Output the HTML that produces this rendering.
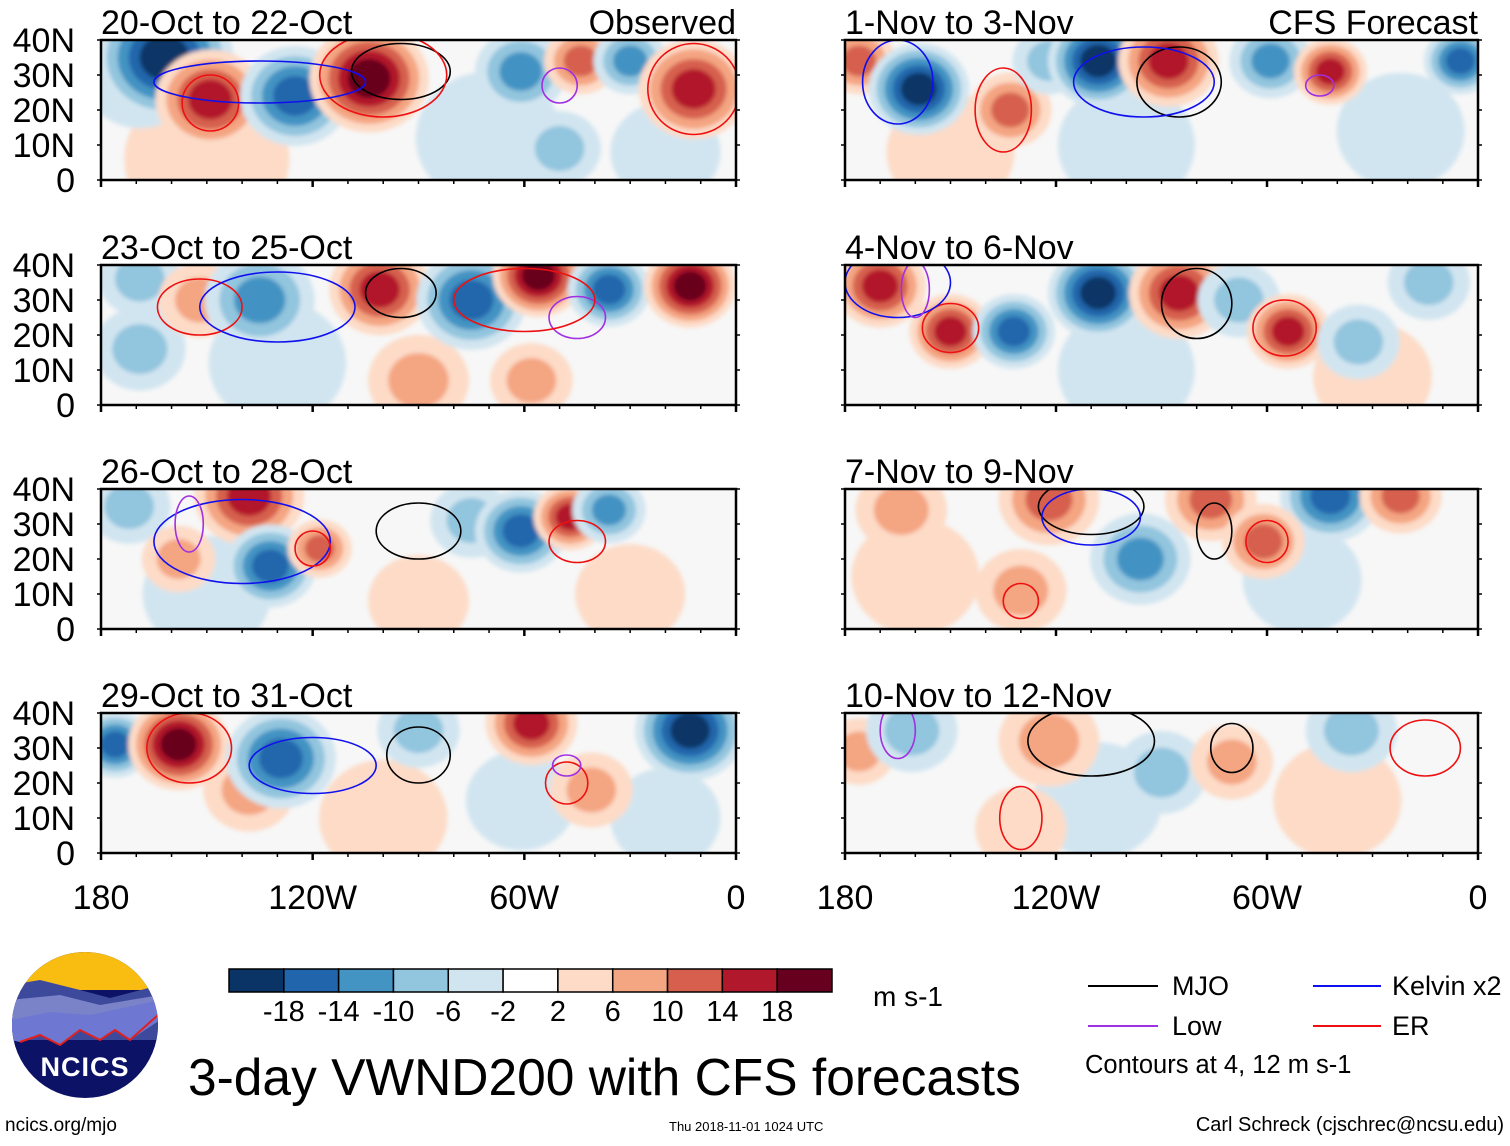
<!DOCTYPE html>
<html><head><meta charset="utf-8"><style>
body{margin:0;background:#fff;}
svg text{font-family:"Liberation Sans",sans-serif;}
</style></head><body>
<svg id="chart" width="1510" height="1141" viewBox="0 0 1510 1141" xmlns="http://www.w3.org/2000/svg">
<defs><filter id="bl" x="-20%" y="-20%" width="140%" height="140%"><feGaussianBlur stdDeviation="2"/></filter></defs>
<g id="panels"></g>
<g id="static">
  <g id="cbar"></g>
  <text x="873" y="1006" font-size="28">m s-1</text>
  <g>
    <clipPath id="lc"><circle cx="85" cy="1025" r="73"/></clipPath>
    <g clip-path="url(#lc)">
      <rect x="10" y="950" width="150" height="150" fill="#0c1265"/>
      <rect x="10" y="950" width="150" height="40" fill="#f9bd12"/>
      <path d="M10 985 L40 980 L80 990 L110 998 L160 985 L160 1040 L10 1040Z" fill="#3d4a9c"/>
      <path d="M10 1000 L60 995 L100 1005 L160 995 L160 1020 L10 1030Z" fill="#7a82c8"/>
      <path d="M10 1020 L50 1012 L90 1015 L160 1000 L160 1020 L130 1040 L115 1030 L100 1040 L80 1030 L60 1045 L40 1035 L20 1042 L10 1040Z" fill="#6e78d2"/>
      <path d="M20 1042 L40 1035 L60 1045 L80 1030 L100 1040 L115 1030 L130 1040 L158 1015" fill="none" stroke="#e02020" stroke-width="2"/>
    </g>
    <text x="85" y="1076" font-size="27" font-weight="bold" fill="#fff" text-anchor="middle" letter-spacing="1">NCICS</text>
  </g>
  <text x="188" y="1095" font-size="51.5">3-day VWND200 with CFS forecasts</text>
  <text x="5" y="1131" font-size="19">ncics.org/mjo</text>
  <text x="669" y="1131" font-size="13">Thu 2018-11-01 1024 UTC</text>
  <text x="1504" y="1131" font-size="20" text-anchor="end">Carl Schreck (cjschrec@ncsu.edu)</text>
  <g>
    <g><line x1="1088" y1="986" x2="1158" y2="986" stroke="#000" stroke-width="2"/><text x="1172" y="995" font-size="27">MJO</text></g>
    <g><line x1="1313" y1="986" x2="1381" y2="986" stroke="#1010ee" stroke-width="2"/><text x="1392" y="995" font-size="27">Kelvin x2</text></g>
    <g><line x1="1088" y1="1026" x2="1158" y2="1026" stroke="#a030e0" stroke-width="2"/><text x="1172" y="1035" font-size="27">Low</text></g>
    <g><line x1="1313" y1="1026" x2="1381" y2="1026" stroke="#ee1010" stroke-width="2"/><text x="1392" y="1035" font-size="27">ER</text></g>
    <text x="1085" y="1073" font-size="25.5">Contours at 4, 12 m s-1</text>
  </g>
</g>
</svg>
<script>
const levels = [-18,-14,-10,-6,-2,2,6,10,14,18];
const levelColors = ["#0b3466","#2166ac","#4393c3","#92c5de","#d1e5f0","#ffffff","#fddbc7","#f4a582","#d6604d","#b2182b","#67001f"];
const panelTitles = ["20-Oct to 22-Oct","1-Nov to 3-Nov","23-Oct to 25-Oct","4-Nov to 6-Nov","26-Oct to 28-Oct","7-Nov to 9-Nov","29-Oct to 31-Oct","10-Nov to 12-Nov"];
const latTicks = [0,10,20,30,40];
const latLabels = ["0","10N","20N","30N","40N"];
const lonTicks = [-180,-120,-60,0];
const lonLabels = ["180","120W","60W","0"];
// blobs: [lon, lat, value m/s, radius deg]
const blobs0 = [[-150,6,4,18],[-70,12,-4,16],[-20,8,-3,12],[-169,29,-6,12],[-162,35,-18,15],[-149,23,14,12],[-125,24,-14,12],[-104,29,18,13],[-61,31,-12,10],[-50,9,-8,9],[-44,34,10,8],[-30,34,-10,8],[-12,26,16,12]];
const blobs1 = [[-22,14,-4,14],[-100,10,-3,15],[-150,8,3,14],[-176,34,12,8],[-159,26,-18,11],[-133,20,12,9],[-122,34,-8,8],[-108,34,-18,11],[-88,34,16,11],[-59,34,-12,9],[-42,31,14,8],[-5,34,-16,8]];
const blobs2 = [[-130,12,-3,15],[-169,16,-6,10],[-90,7,6,11],[-58,7,8,9],[-169,36,-8,9],[-152,30,8,9],[-135,30,-12,12],[-101,33,16,11],[-75,30,-16,12],[-56,37,18,10],[-36,33,-14,9],[-13,34,18,10]];
const blobs3 = [[-100,10,-3,15],[-30,8,3,13],[-14,35,-6,9],[-170,34,14,10],[-150,21,16,9],[-132,21,-16,9],[-108,32,-18,11],[-85,32,16,11],[-68,30,-8,9],[-54,21,14,9],[-34,18,-8,9]];
const blobs4 = [[-90,8,5,11],[-150,10,-3,14],[-30,10,3,12],[-172,35,-6,9],[-138,38,16,12],[-132,18,-16,10],[-118,23,10,7],[-158,20,8,8],[-75,31,-8,9],[-61,28,-14,10],[-47,32,14,8],[-36,34,-12,8]];
const blobs5 = [[-130,11,6,10],[-50,14,-4,13],[-160,15,4,14],[-164,34,8,10],[-122,37,12,11],[-96,20,-10,11],[-76,37,12,10],[-42,38,-16,11],[-22,38,12,9],[-61,25,12,9]];
const blobs6 = [[-61,15,-4,12],[-100,10,3,14],[-20,10,-3,12],[-138,18,6,10],[-176,31,-16,8],[-158,31,18,11],[-129,27,-16,12],[-90,35,-8,9],[-58,37,16,10],[-13,35,-18,12],[-41,18,8,9]];
const blobs7 = [[-108,15,-4,14],[-130,7,4,10],[-40,15,3,14],[-176,29,6,8],[-161,35,-8,10],[-122,32,6,11],[-90,23,-6,10],[-70,26,6,9],[-36,35,-6,10]];
const allBlobs = [blobs0,blobs1,blobs2,blobs3,blobs4,blobs5,blobs6,blobs7];
// contours: [lon, lat, rx deg, ry deg, type]
const contours0 = [[-95,31,14,8,"mjo"],[-149,22,8,8,"er"],[-100,30,18,12,"er"],[-12,26,13,13,"er"],[-50,27,5,5,"low"],[-135,28,30,6,"kelvin"]];
const contours1 = [[-165,28,10,12,"kelvin"],[-135,20,8,12,"er"],[-85,28,12,10,"mjo"],[-95,28,20,10,"kelvin"],[-45,27,4,3,"low"]];
const contours2 = [[-152,28,12,8,"er"],[-95,32,10,7,"mjo"],[-130,28,22,10,"kelvin"],[-45,25,8,6,"low"],[-60,30,20,9,"er"]];
const contours3 = [[-150,22,8,7,"er"],[-80,29,10,10,"mjo"],[-165,35,15,10,"kelvin"],[-55,22,9,8,"er"],[-160,33,4,8,"low"]];
const contours4 = [[-90,28,12,8,"mjo"],[-140,25,25,12,"kelvin"],[-120,23,5,5,"er"],[-45,25,8,6,"er"],[-155,30,4,8,"low"]];
const contours5 = [[-110,35,15,8,"mjo"],[-75,28,5,8,"mjo"],[-130,8,5,5,"er"],[-60,25,6,6,"er"],[-110,32,14,8,"kelvin"]];
const contours6 = [[-90,28,9,8,"mjo"],[-155,30,12,10,"er"],[-120,25,18,8,"kelvin"],[-48,20,6,6,"er"],[-48,25,4,3,"low"]];
const contours7 = [[-110,32,18,10,"mjo"],[-70,30,6,7,"mjo"],[-130,10,6,9,"er"],[-165,35,5,8,"low"],[-15,30,10,8,"er"]];
const allContours = [contours0,contours1,contours2,contours3,contours4,contours5,contours6,contours7];

const NS = "http://www.w3.org/2000/svg";
function mk(tag, attrs, parent){const e=document.createElementNS(NS,tag);for(const k in attrs)e.setAttribute(k,attrs[k]);parent.appendChild(e);return e;}
const colX = [101, 845], panW = [635, 633];
const rowY = [40, 265, 489, 713], panH = 140;
const ctColor = {mjo:"#000",kelvin:"#1010ee",low:"#a030e0",er:"#ee1010"};
function colorFor(v){let i=0;while(i<levels.length && v>levels[i])i++;return levelColors[i];}
const root = document.getElementById('panels');
allBlobs.forEach((blobs,p)=>{
  const c=p%2, r=Math.floor(p/2);
  const L=colX[c], W=panW[c], T=rowY[r], B=T+panH;
  const x = lon => L + (lon+180)/180*W;
  const y = lat => B - lat/40*panH;
  const sx = W/180*1.3, sy = panH/40*1.25;
  const g = mk('g',{},root);
  
  
  const cid='pc'+p;
  const cp=mk('clipPath',{id:cid},g); mk('rect',{x:L,y:T,width:W,height:panH},cp);
  const field=mk('g',{'clip-path':'url(#'+cid+')'},g);
  mk('rect',{x:L,y:T,width:W,height:panH,fill:'#f7f7f7'},field);
  const fb=mk('g',{filter:'url(#bl)'},field);
  blobs.forEach(b=>{
    const [lon,lat,v,rad]=b;
    const n=levels.filter(l=>v>0 ? (l>0 && l<=v) : (l<0 && l>=v)).length;
    for(let k=1;k<=n;k++){
      const lv = v>0 ? levels[4+k] : levels[5-k];
      const f = 1 - 0.8*(k-1)/n;
      const el=mk('ellipse',{cx:x(lon),cy:y(lat),rx:rad*sx*f,ry:rad*sy*f*0.95,fill:colorFor(v>0?lv+0.5:lv-0.5)},fb);
      
      
    }
  });
  allContours[p].forEach(ct=>{
    const [lon,lat,rx,ry,t]=ct;
    const el=mk('ellipse',{cx:x(lon),cy:y(lat),rx:rx*W/180,ry:ry*panH/40,fill:'none',stroke:ctColor[t],'stroke-width':1.6},field);
    
    
  });
  mk('rect',{x:L,y:T,width:W,height:panH,fill:'none',stroke:'#000','stroke-width':2.5},g);
  for(let lon=-180;lon<=0;lon+=10){const big=lon%60===0;mk('line',{x1:x(lon),x2:x(lon),y1:B,y2:B+(big?7:4),stroke:'#000','stroke-width':big?2.5:1.5},g);}
  latTicks.forEach((lt,i)=>{
    mk('line',{x1:L,x2:L-4,y1:y(lt),y2:y(lt),stroke:'#000','stroke-width':1.5},g);
    mk('line',{x1:L+W,x2:L+W+4,y1:y(lt),y2:y(lt),stroke:'#000','stroke-width':1.5},g);
    if(c===0){const t=mk('text',{x:75,y:y(lt)+12,'font-size':34,'text-anchor':'end'},g);t.textContent=latLabels[i];
      
      }
  });
  const tt=mk('text',{x:L,y:T-6,'font-size':34},g); tt.textContent=panelTitles[p];
  
  
  if(p===0){const o=mk('text',{x:L+W,y:T-6,'font-size':34,'text-anchor':'end'},g);o.textContent='Observed';
    
    }
  if(p===1){const o=mk('text',{x:L+W,y:T-6,'font-size':34,'text-anchor':'end'},g);o.textContent='CFS Forecast';
    
    }
  if(r===3){lonTicks.forEach((ln,i)=>{const t=mk('text',{x:x(ln),y:909,'font-size':34,'text-anchor':'middle'},g);t.textContent=lonLabels[i];
    
    });}
});
const cb=document.getElementById('cbar');
const cbL=229, cbW=603/levelColors.length;
levelColors.forEach((col,i)=>{
  const rc=mk('rect',{x:cbL+i*cbW,y:969,width:cbW,height:23,fill:col,stroke:'#000','stroke-width':1.5},cb);
  
  
});
levels.forEach((lv,i)=>{
  const t=mk('text',{x:cbL+(i+1)*cbW,y:1021,'font-size':29,'text-anchor':'middle'},cb);t.textContent=lv;
  
  
});
</script>
</body></html>
